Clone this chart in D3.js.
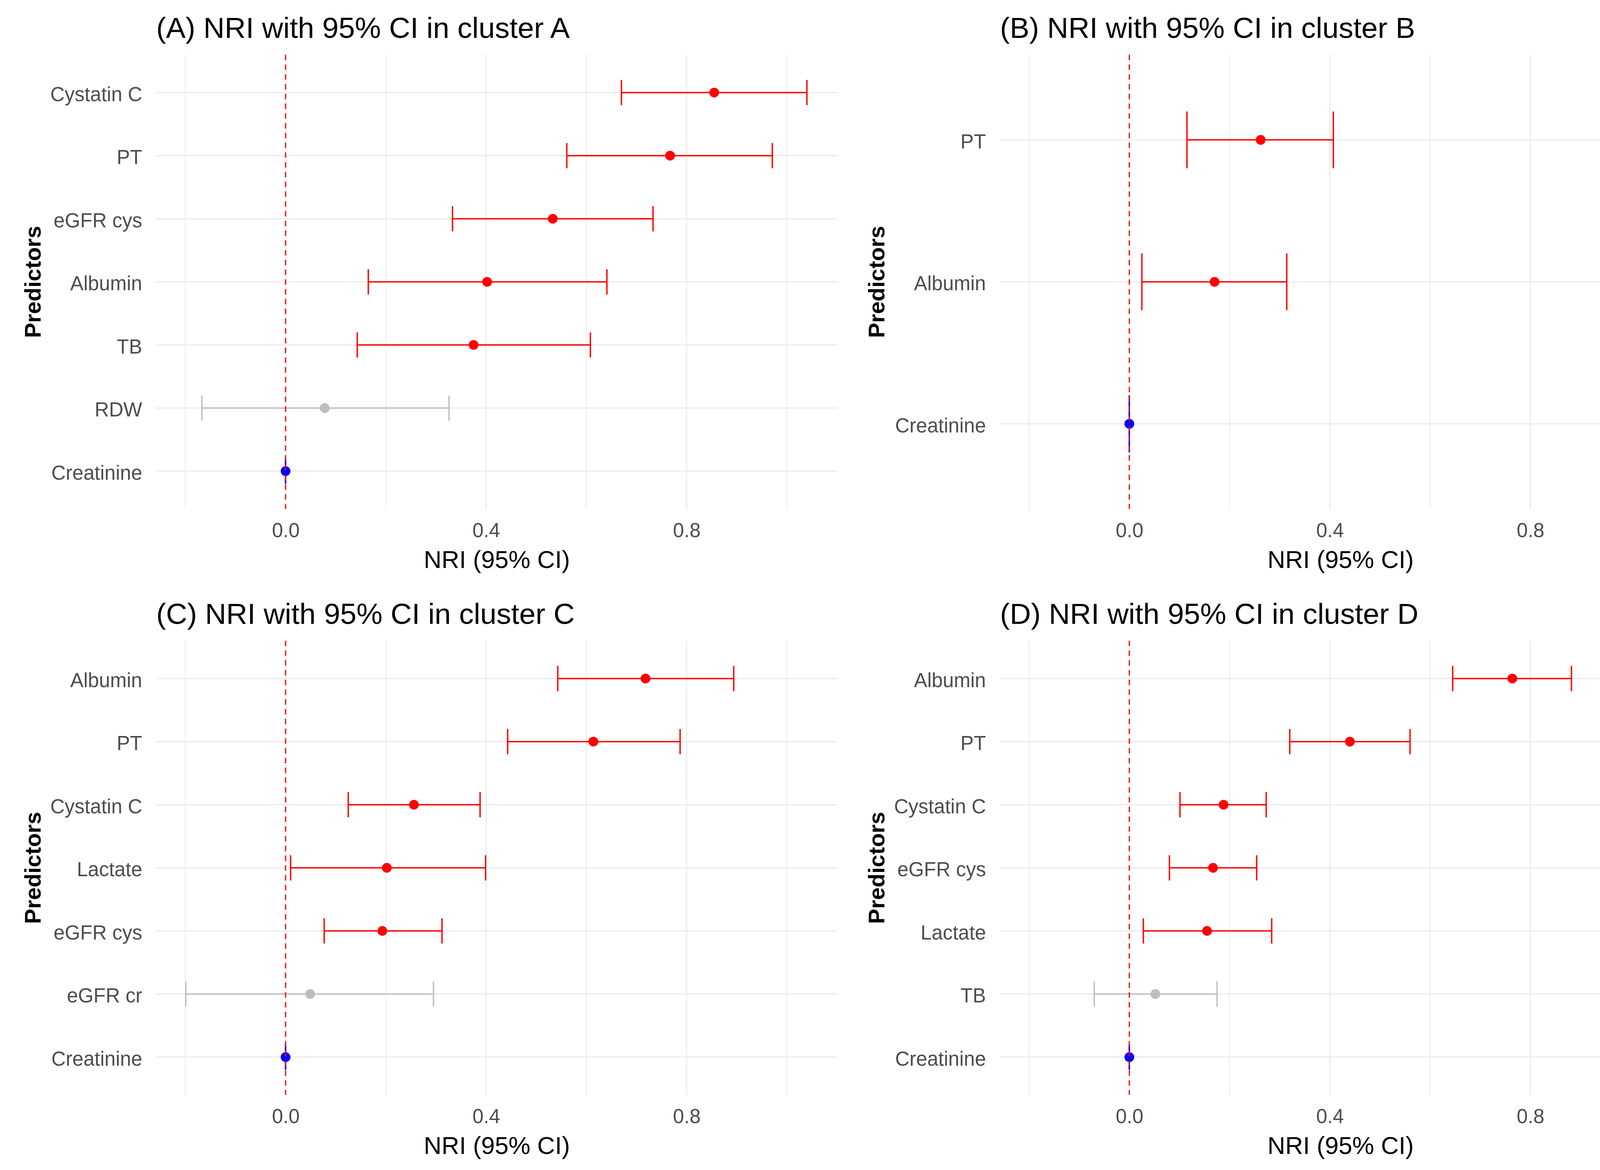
<!DOCTYPE html>
<html>
	<head>
		<meta charset="UTF-8">
		<title>NRI with 95% CI by cluster</title>
		<style>
			body{margin:0;background:#fff;}
			text{font-family:"Liberation Sans",Arial,sans-serif;}
		</style>
	</head>
	<body>
		<div id="chart"></div>
		<script src="https://cdn.jsdelivr.net/npm/d3@7/dist/d3.min.js"></script>
		<script>
			//values, top row of each panel first
			var predictorsA = ["Cystatin C","PT","eGFR cys","Albumin","TB","RDW","Creatinine"];
			var nriA  = [0.855,0.767,0.533,0.402,0.375,0.078,0];
			var lowA  = [0.670,0.561,0.333,0.165,0.143,-0.167,0];
			var highA = [1.040,0.971,0.733,0.641,0.608,0.326,0];

			var predictorsB = ["PT","Albumin","Creatinine"];
			var nriB  = [0.262,0.170,0];
			var lowB  = [0.115,0.025,0];
			var highB = [0.407,0.314,0];

			var predictorsC = ["Albumin","PT","Cystatin C","Lactate","eGFR cys","eGFR cr","Creatinine"];
			var nriC  = [0.718,0.614,0.256,0.202,0.193,0.049,0];
			var lowC  = [0.543,0.443,0.125,0.010,0.077,-0.199,0];
			var highC = [0.894,0.787,0.388,0.399,0.312,0.295,0];

			var predictorsD = ["Albumin","PT","Cystatin C","eGFR cys","Lactate","TB","Creatinine"];
			var nriD  = [0.764,0.440,0.188,0.167,0.155,0.052,0];
			var lowD  = [0.645,0.320,0.101,0.080,0.028,-0.070,0];
			var highD = [0.882,0.560,0.273,0.254,0.284,0.175,0];

			var titles = ["(A) NRI with 95% CI in cluster A","(B) NRI with 95% CI in cluster B",
				"(C) NRI with 95% CI in cluster C","(D) NRI with 95% CI in cluster D"];
			var majorTicks = [0,0.4,0.8];
			var minorTicks = [-0.2,0.2,0.6,1.0];
			var reference = "Creatinine";

			var width = 4326,
				height = 2995;
			//plot area of the top-left panel; the others are shifted copies
			var m = {left:400,right:2144,top:140,bottom:1303};
			var dx = 2160, dy = 1500;

			var svg = d3.select("#chart").append("svg")
						.attr("width",width)
						.attr("height",height);
			svg.append("rect").attr("width",width).attr("height",height).attr("fill","#fff");

			var panels = [
				{p:predictorsA,n:nriA,lo:lowA,hi:highA,ox:0,oy:0},
				{p:predictorsB,n:nriB,lo:lowB,hi:highB,ox:dx,oy:0},
				{p:predictorsC,n:nriC,lo:lowC,hi:highC,ox:0,oy:dy},
				{p:predictorsD,n:nriD,lo:lowD,hi:highD,ox:dx,oy:dy}
			];

			function colorOf(name,lo){
				if(name == reference) return "blue";
				return lo > 0 ? "red" : "#BEBEBE";
			}

			panels.forEach(function(P,i){
				var g = svg.append("g").attr("transform","translate("+P.ox+","+P.oy+")");
				var x = d3.scaleLinear().domain([-0.258,1.101]).range([m.left,m.right]);
				var y = d3.scalePoint().domain(P.p).range([m.top,m.bottom]).padding(0.6);
				var capH = y.step()*0.2;

				//grid
				g.selectAll(".minor").data(minorTicks).enter().append("line")
					.attr("x1",x).attr("x2",x).attr("y1",m.top).attr("y2",m.bottom)
					.attr("stroke","#EBEBEB").attr("stroke-width",2);
				g.selectAll(".major").data(majorTicks).enter().append("line")
					.attr("x1",x).attr("x2",x).attr("y1",m.top).attr("y2",m.bottom)
					.attr("stroke","#EBEBEB").attr("stroke-width",3);
				g.selectAll(".hgrid").data(P.p).enter().append("line")
					.attr("x1",m.left).attr("x2",m.right)
					.attr("y1",function(d){return y(d);}).attr("y2",function(d){return y(d);})
					.attr("stroke","#EBEBEB").attr("stroke-width",3);

				var rows = P.p.map(function(d,k){
					return {name:d,nri:P.n[k],lo:P.lo[k],hi:P.hi[k]};
				});

				//error bars
				var eb = g.selectAll(".eb").data(rows).enter().append("g")
					.attr("stroke",function(d){return colorOf(d.name,d.lo);})
					.attr("stroke-width",3.5);
				eb.append("line")
					.attr("x1",function(d){return x(d.lo);}).attr("x2",function(d){return x(d.hi);})
					.attr("y1",function(d){return y(d.name);}).attr("y2",function(d){return y(d.name);});
				eb.append("line")
					.attr("x1",function(d){return x(d.lo);}).attr("x2",function(d){return x(d.lo);})
					.attr("y1",function(d){return y(d.name)-capH;}).attr("y2",function(d){return y(d.name)+capH;});
				eb.append("line")
					.attr("x1",function(d){return x(d.hi);}).attr("x2",function(d){return x(d.hi);})
					.attr("y1",function(d){return y(d.name)-capH;}).attr("y2",function(d){return y(d.name)+capH;});

				g.selectAll(".pt").data(rows).enter().append("circle")
					.attr("cx",function(d){return x(d.nri);})
					.attr("cy",function(d){return y(d.name);})
					.attr("r",12.5)
					.attr("fill",function(d){return colorOf(d.name,d.lo);});

				//reference line at 0
				g.append("line")
					.attr("x1",x(0)).attr("x2",x(0)).attr("y1",m.top).attr("y2",m.bottom)
					.attr("stroke","red").attr("stroke-width",3).attr("stroke-dasharray","14,11");

				//axes
				var xa = g.append("g").attr("transform","translate(0,"+m.bottom+")")
					.call(d3.axisBottom(x).tickValues(majorTicks).tickSize(0).tickPadding(36).tickFormat(d3.format(".1f")));
				var ya = g.append("g").attr("transform","translate("+m.left+",0)")
					.call(d3.axisLeft(y).tickSize(0).tickPadding(36));
				[xa,ya].forEach(function(a){
					a.select(".domain").remove();
					a.selectAll("text").attr("font-size",51).attr("fill","#4D4D4D")
						.attr("font-family","'Liberation Sans',Arial,sans-serif");
				});
				ya.selectAll("text").attr("dy","0.42em");

				g.append("text")
					.attr("x",m.left).attr("y",97)
					.attr("font-size",75).attr("fill","#000")
					.text(titles[i]);
				g.append("text")
					.attr("x",(m.left+m.right)/2).attr("y",1454)
					.attr("text-anchor","middle")
					.attr("font-size",63).attr("fill","#000")
					.text("NRI (95% CI)");
				g.append("text")
					.attr("transform","translate(104,"+((m.top+m.bottom)/2)+") rotate(-90)")
					.attr("text-anchor","middle")
					.attr("font-size",58).attr("font-weight","bold").attr("fill","#000")
					.text("Predictors");
			});
		</script>
	</body>
</html>
